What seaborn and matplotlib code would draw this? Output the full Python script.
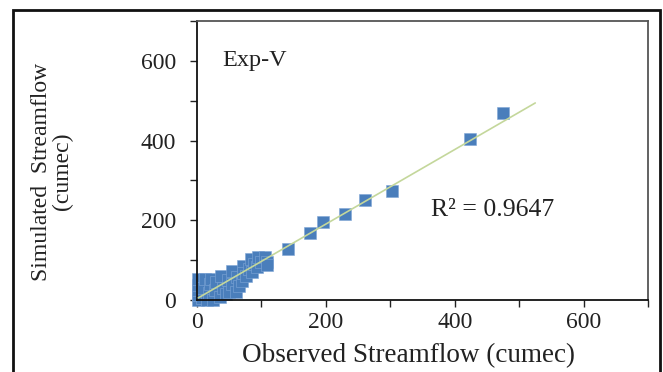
import numpy as np
import pandas as pd
import matplotlib
matplotlib.use("Agg")
import matplotlib.pyplot as plt
from matplotlib.patches import Rectangle
from matplotlib.ticker import MultipleLocator
import seaborn as sns

# ---- data ----
observed = [2, 2, 2, 2, 2, 8, 10, 12, 15, 18, 20, 22, 25, 28, 30, 35, 38, 40, 45, 48,
            50, 55, 55, 60, 62, 65, 70, 72, 72, 76, 80, 84, 85, 88, 93, 95, 100, 105,
            109, 109, 142, 176, 195, 229, 260, 302, 424, 475]
simulated = [0, 12, 25, 38, 52, 5, 30, 52, 0, 18, 40, 52, 0, 25, 45, 8, 60, 30, 15, 50,
             20, 73, 40, 20, 58, 35, 48, 85, 68, 60, 78, 103, 70, 90, 83, 108, 95, 108,
             95, 88, 128, 168, 196, 216, 251, 273, 403, 469]
panel_label = "Exp-V"
r2_text = "R² = 0.9647"
trend_end = 525
x_ticks = [0, 200, 400, 600]
y_ticks = [0, 200, 400, 600]

df = pd.DataFrame({"obs": observed, "sim": simulated})

sns.set_theme(style="white")
plt.rcParams["font.family"] = ["Liberation Serif", "DejaVu Serif"]

fig = plt.figure(figsize=(6.63, 3.72), dpi=100)
ax = fig.add_axes([197 / 663, 1 - 300 / 372, (648 - 197) / 663, (300 - 21) / 372])

# trend line
slope, intercept = np.polyfit(df["obs"], df["sim"], 1)
tx = np.array([df["obs"].min(), trend_end])
ax.plot(tx, slope * tx + intercept, color="#c4d79b", lw=1.2, zorder=3)

sns.scatterplot(data=df, x="obs", y="sim", marker="s", s=85, color="#4a7ebb",
                edgecolor="#7fa6d6", linewidth=0.4, ax=ax, zorder=2, clip_on=False)

ax.set_xlim(0, 700)
ax.set_ylim(0, 700)
ax.set_xticks(x_ticks)
ax.set_yticks(y_ticks)
ax.xaxis.set_minor_locator(MultipleLocator(100))
ax.yaxis.set_minor_locator(MultipleLocator(100))
ax.tick_params(axis="both", which="both", direction="out", length=5, width=1,
               color="#222222", labelsize=17, labelcolor="#222222")
ax.tick_params(axis="both", which="both", bottom=True, left=True)
ax.tick_params(axis="x", pad=4)
ax.tick_params(axis="y", pad=10)

for side in ["left", "bottom"]:
    ax.spines[side].set_color("#111111")
    ax.spines[side].set_linewidth(1.3)
for side in ["top", "right"]:
    ax.spines[side].set_color("#555555")
    ax.spines[side].set_linewidth(1.3)

ax.set_xlabel("Observed Streamflow (cumec)", fontsize=19.5, color="#222222")
ax.set_ylabel("Simulated  Streamflow\n(cumec)", fontsize=17, color="#222222",
              linespacing=1.0)
ax.xaxis.set_label_coords(0.47, -0.155)
ax.yaxis.set_label_coords(-0.275, 0.46)

ax.text(39, 601, panel_label, fontsize=17.5, color="#222222", va="center", ha="left")
ax.text(363, 225, r2_text, fontsize=18.5, color="#222222", va="center", ha="left")

# outer frame
fig.patches.append(Rectangle((13 / 663, -0.1), (660 - 13) / 663, 1.1 - 10 / 372,
                             transform=fig.transFigure, fill=False, lw=2,
                             edgecolor="#111111", figure=fig))

fig.savefig("out.png", dpi=100)
